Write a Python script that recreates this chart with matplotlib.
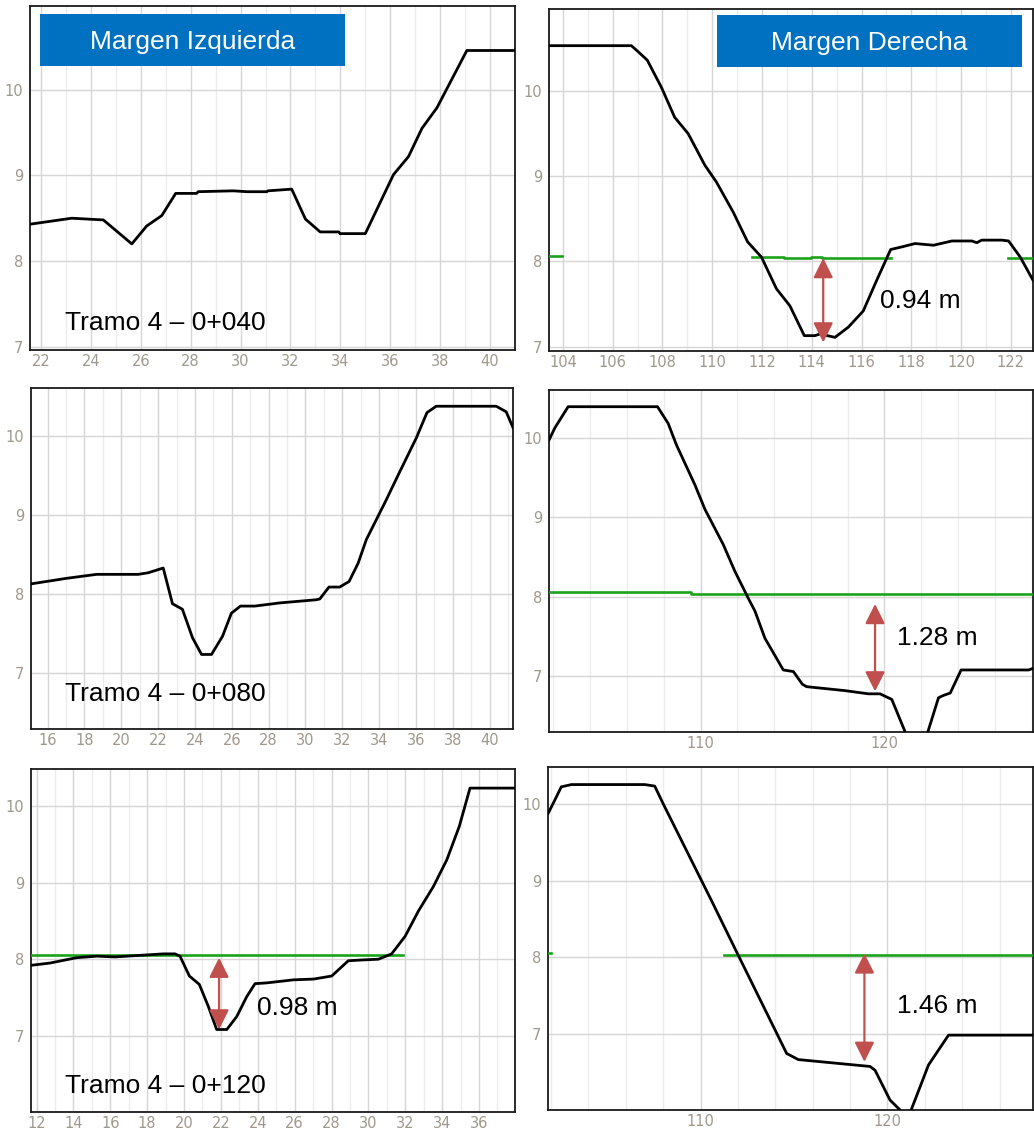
import numpy as np
import matplotlib
matplotlib.use("Agg")
import matplotlib.pyplot as plt
from matplotlib.patches import Rectangle, FancyArrowPatch
from matplotlib.ticker import MultipleLocator

nan = np.nan

# --- Tramo 4 - 0+040 ---
p1_x = [21.56, 23.23, 24.5, 25.64, 26.24, 26.84, 27.40, 28.24, 28.3, 29.71, 30.25, 31.05, 31.1,
        32.05, 32.6, 33.19, 33.93, 33.99, 35.0, 36.13, 36.73, 37.27, 37.87, 39.07, 41.0]
p1_y = [8.43, 8.50, 8.48, 8.20, 8.41, 8.53, 8.79, 8.79, 8.81, 8.82, 8.81, 8.81, 8.82,
        8.84, 8.49, 8.34, 8.34, 8.32, 8.32, 9.01, 9.22, 9.55, 9.79, 10.46, 10.46]

p2_x = [103.44, 106.75, 107.02, 107.39, 107.96, 108.49, 109.03, 109.70, 110.17, 110.84, 111.42,
        111.98, 112.58, 113.12, 113.70, 114.13, 114.33, 114.93, 115.47, 116.07, 116.61, 117.17,
        117.61, 118.15, 118.89, 119.63, 120.43, 120.63, 120.83, 121.64, 121.91, 122.38, 122.89]
p2_y = [10.53, 10.53, 10.46, 10.36, 10.04, 9.69, 9.50, 9.13, 8.93, 8.58, 8.23,
        8.05, 7.68, 7.48, 7.13, 7.13, 7.15, 7.11, 7.23, 7.42, 7.78, 8.14,
        8.17, 8.21, 8.19, 8.24, 8.24, 8.22, 8.25, 8.25, 8.24, 8.05, 7.78]
p2_wl_x = [103.44, 103.95, nan, 111.58, 112.9, 112.9, 113.95, 113.95, 114.4, 114.4, 117.2, nan, 121.9, 122.89]
p2_wl_y = [8.06, 8.06, nan, 8.055, 8.055, 8.04, 8.04, 8.055, 8.055, 8.04, 8.04, nan, 8.04, 8.04]

# --- Tramo 4 - 0+080 ---
p3_x = [15.10, 17.03, 18.66, 20.92, 21.46, 22.28, 22.78, 23.32, 23.87, 24.36, 24.90, 25.50, 25.98,
        26.47, 27.25, 28.61, 30.60, 30.78, 31.28, 31.86, 32.37, 32.86, 33.31, 34.39, 35.03, 36.02,
        36.60, 37.10, 40.36, 40.90, 41.27]
p3_y = [8.13, 8.20, 8.25, 8.25, 8.27, 8.33, 7.88, 7.81, 7.45, 7.24, 7.24, 7.47, 7.76,
        7.85, 7.85, 7.89, 7.93, 7.94, 8.09, 8.09, 8.16, 8.39, 8.69, 9.19, 9.50, 9.97,
        10.29, 10.37, 10.37, 10.30, 10.10]

p4_x = [101.76, 102.07, 102.80, 107.66, 108.24, 108.69, 109.69, 110.24, 111.23, 111.87, 112.60,
        112.96, 113.50, 114.50, 115.05, 115.54, 115.77, 117.86, 119.13, 119.76, 120.40, 121.13,
        121.7, 122.36, 122.94, 123.21, 123.58, 124.17, 127.84, 128.08]
p4_y = [9.97, 10.12, 10.39, 10.39, 10.18, 9.91, 9.41, 9.10, 8.66, 8.32, 7.98,
        7.82, 7.48, 7.08, 7.06, 6.90, 6.87, 6.82, 6.78, 6.78, 6.71, 6.30,
        6.05, 6.30, 6.73, 6.76, 6.79, 7.08, 7.08, 7.10]
p4_wl_x = [101.76, 109.5, 109.5, 128.08]
p4_wl_y = [8.056, 8.056, 8.04, 8.04]

# --- Tramo 4 - 0+120 ---
p5_x = [11.70, 12.73, 14.18, 15.27, 16.26, 18.88, 19.51, 19.78, 20.29, 20.83, 21.32, 21.77, 22.32,
        22.86, 23.40, 23.85, 24.48, 25.93, 27.02, 28.01, 28.91, 29.64, 30.54, 31.26, 31.99, 32.71,
        33.52, 34.25, 34.93, 35.51, 37.95]
p5_y = [7.92, 7.95, 8.02, 8.04, 8.03, 8.07, 8.07, 8.04, 7.78, 7.67, 7.38, 7.08, 7.08,
        7.25, 7.51, 7.68, 7.69, 7.73, 7.74, 7.78, 7.98, 7.99, 8.00, 8.07, 8.30, 8.63,
        8.95, 9.30, 9.74, 10.24, 10.24]
p5_wl_x = [11.70, 31.9]
p5_wl_y = [8.05, 8.05]

p6_x = [101.84, 102.11, 102.55, 103.09, 107.02, 107.55, 108.0, 110.59, 111.93, 114.61, 115.23,
        119.07, 119.34, 120.14, 120.68, 120.95, 121.27, 122.2, 123.27, 127.79]
p6_y = [9.88, 10.01, 10.23, 10.26, 10.26, 10.24, 10.01, 8.74, 8.07, 6.74, 6.66,
        6.57, 6.52, 6.13, 6.0, 5.9, 6.0, 6.59, 6.98, 6.98]
p6_wl_x = [101.84, 102.02, nan, 111.27, 127.79]
p6_wl_y = [8.06, 8.06, nan, 8.03, 8.03]

# depth arrows: x, top, bottom, label
arrows = {
    2: (114.46, 8.04, 7.05, "0.94 m"),
    4: (119.49, 7.91, 6.81, "1.28 m"),
    5: (21.90, 8.02, 7.08, "0.98 m"),
    6: (118.77, 8.05, 6.63, "1.46 m"),
}

W, H = 1034, 1131
fig = plt.figure(figsize=(W / 100, H / 100), dpi=100)
fig.patch.set_facecolor("white")

def fx(px):
    return px / W

def fy(py):
    return 1 - py / H

# pixel boxes (left, right, top, bottom), limits, tick steps
panels = [
    (1, (30, 515, 6, 350), (21.56, 41.0), (6.96, 10.98), 2, 1, p1_x, p1_y, None, None),
    (2, (549, 1033, 9, 351), (103.44, 122.89), (6.95, 10.96), 2, 1, p2_x, p2_y, p2_wl_x, p2_wl_y),
    (3, (31, 513, 388, 729), (15.10, 41.27), (6.30, 10.60), 2, 1, p3_x, p3_y, None, None),
    (4, (549, 1033, 390, 732), (101.76, 128.08), (6.30, 10.60), 10, 2, p4_x, p4_y, p4_wl_x, p4_wl_y),
    (5, (31, 515, 769, 1112), (11.70, 37.95), (6.0, 10.49), 2, 1, p5_x, p5_y, p5_wl_x, p5_wl_y),
    (6, (548, 1033, 767, 1110), (101.84, 127.79), (6.0, 10.49), 10, 2, p6_x, p6_y, p6_wl_x, p6_wl_y),
]

tick_col = "#a0988c"
red = "#C0504D"
green = "#1ca31c"

for num, (l, r, t, b), xlim, ylim, xmaj, xmin, xs, ys, wx, wy in panels:
    ax = fig.add_axes([fx(l), fy(b), (r - l) / W, (b - t) / H])
    ax.set_xlim(*xlim)
    ax.set_ylim(*ylim)
    ax.xaxis.set_major_locator(MultipleLocator(xmaj))
    ax.xaxis.set_minor_locator(MultipleLocator(xmin))
    ax.set_yticks([v for v in [7, 8, 9, 10] if ylim[0] <= v <= ylim[1]])
    ax.grid(True, which="major", color="#d6d6d6", lw=1.0)
    ax.grid(True, which="minor", axis="x", color="#ececec", lw=1.0)
    ax.set_axisbelow(True)
    ax.tick_params(which="both", length=0, labelsize=10.5, labelcolor=tick_col)
    ax.tick_params(axis="y", pad=5)
    ax.tick_params(axis="x", pad=3)
    for s in ax.spines.values():
        s.set_color("#1a1a1a")
        s.set_linewidth(1.3)

    if wx is not None:
        ax.plot(wx, wy, color=green, lw=1.9, zorder=3)
    ax.plot(xs, ys, color="black", lw=2.0, zorder=4)

    if num in arrows:
        axx, top, bot, lab = arrows[num]
        arr = FancyArrowPatch((axx, top), (axx, bot),
                              arrowstyle="<|-|>,head_length=12,head_width=6",
                              mutation_scale=1, color=red, lw=1.6,
                              shrinkA=0, shrinkB=0, zorder=5)
        ax.add_patch(arr)

# panel titles
for (l, r, t, b), label in [((40, 345, 14, 66), "Margen Izquierda"),
                            ((717, 1022, 15, 67), "Margen Derecha")]:
    fig.add_artist(Rectangle((fx(l), fy(b)), (r - l) / W, (b - t) / H,
                             transform=fig.transFigure, facecolor="#0070C0",
                             edgecolor="none", zorder=6))
    fig.text(fx((l + r) / 2), fy((t + b) / 2 + 2), label, color="white",
             fontsize=19, family="Liberation Sans", ha="center", va="center", zorder=7)

# section labels
for py, label in [(330, "Tramo 4 \u2013 0+040"), (701, "Tramo 4 \u2013 0+080"),
                  (1093, "Tramo 4 \u2013 0+120")]:
    fig.text(fx(65), fy(py), label, fontsize=19, family="Liberation Sans",
             va="baseline", zorder=7)

# depth labels
for (px, py), num in [((880, 308), 2), ((897, 645), 4), ((257, 1015), 5), ((897, 1013), 6)]:
    fig.text(fx(px), fy(py), arrows[num][3], fontsize=19, family="Liberation Sans",
             va="baseline", zorder=7)

fig.savefig("out.png", dpi=100, facecolor="white")
